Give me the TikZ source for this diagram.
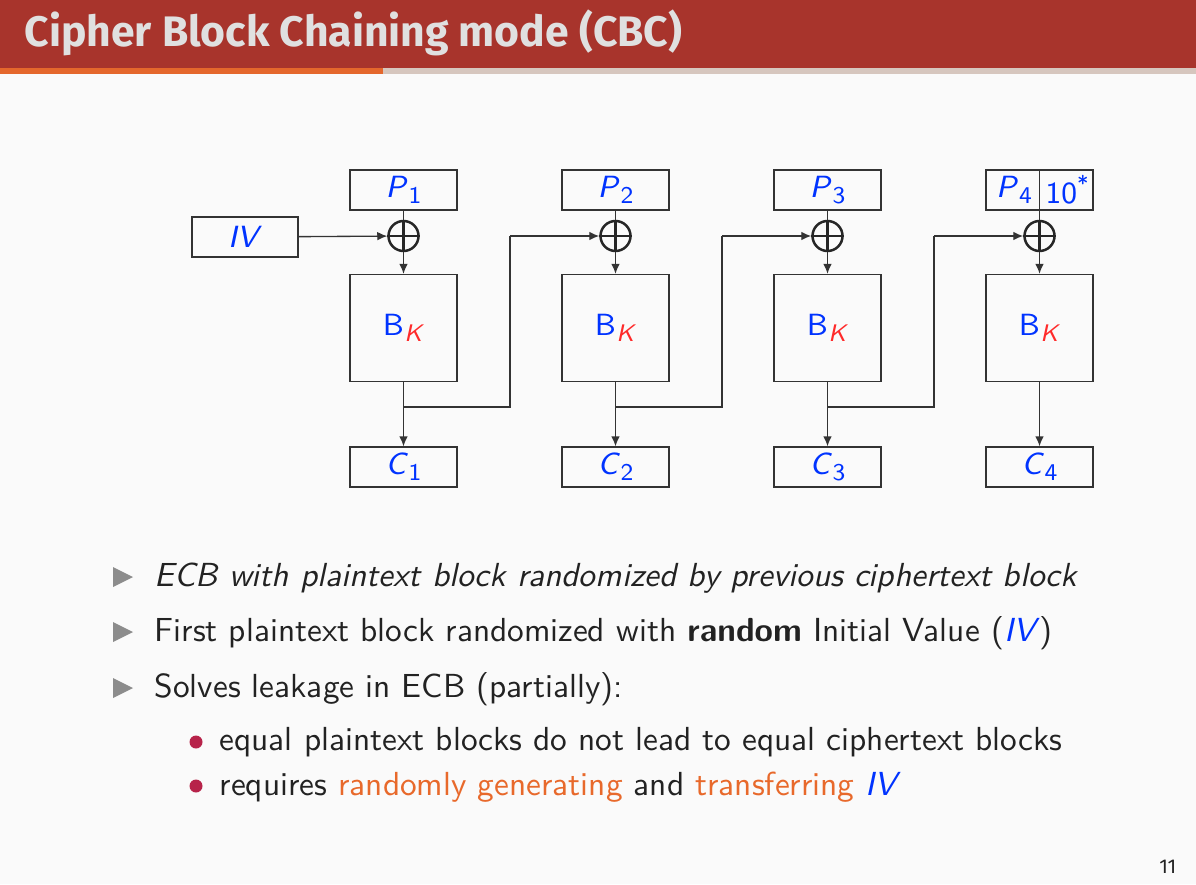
\documentclass[tikz,border=0pt]{standalone}
\usepackage{fontspec}
\setmainfont{Latin Modern Sans}
\newfontfamily\titlefont{Fira Sans}
\usetikzlibrary{arrows.meta,calc}
\definecolor{bg}{HTML}{FAFAFA}
\definecolor{barred}{HTML}{A8342C}
\definecolor{barorange}{HTML}{E4672C}
\definecolor{bargray}{HTML}{D6C6BE}
\definecolor{txtblue}{HTML}{0033FF}
\definecolor{txtred}{HTML}{FF2A2A}
\definecolor{txtorange}{HTML}{E8692B}
\definecolor{bulletred}{HTML}{B7234A}
\definecolor{linegray}{HTML}{333333}
\definecolor{textdark}{HTML}{222222}
\newcommand{\lowsub}[1]{\raisebox{-0.2em}{\fontsize{7.2}{8}\selectfont #1}}
\newcommand{\pv}[2]{\textcolor{txtblue}{\textit{#1}\kern0.02em\lowsub{#2}}}
\newcommand{\bk}{\textcolor{txtblue}{B}\kern0.02em\textcolor{txtred}{\lowsub{\textit{K}}}}
\begin{document}
\begin{tikzpicture}[x=0.3pt,y=-0.3pt,
  blk/.style={draw=linegray,line width=0.4pt,minimum width=32.1pt,minimum height=12pt,inner sep=0pt,font=\fontsize{9.2}{10}\selectfont},
  bigblk/.style={blk,minimum height=32.1pt},
  xorc/.style={draw=black!85,line width=0.75pt,circle,minimum size=9pt,inner sep=0pt},
  arr/.style={draw=linegray,line width=0.4pt,-{Latex[length=3pt,width=2.6pt]}},
  ln/.style={draw=linegray,line width=0.4pt},
  txt/.style={anchor=base west,inner sep=0pt,text=textdark,font=\fontsize{10}{12}\selectfont},
  tri/.style={fill=gray!90},
  dot/.style={fill=bulletred}]
\fill[bg] (0,0) rectangle (1196,884);
\useasboundingbox (0,0) rectangle (1196,884);
% title bar
\fill[barred] (0,0) rectangle (1196,68);
\fill[barorange] (0,68) rectangle (383,74);
\fill[bargray] (383,68) rectangle (1196,74);
\node[anchor=base west,inner sep=0pt,text=white!88!black,font=\titlefont\bfseries\fontsize{12.8}{14}\selectfont] (title) at (24,47) {Cipher Block Chaining mode (CBC)};
% diagram
\node[blk,minimum width=31.8pt] (iv) at (245,237) {\textcolor{txtblue}{\textit{IV}}};
\foreach \i/\cx in {1/403.5,2/615.5,3/827.5,4/1039.5}{
  \node[xorc] (x\i) at (\cx,236) {};
  \draw[line width=0.75pt,black!85] (x\i.north) -- (x\i.south) (x\i.west) -- (x\i.east);
  \node[bigblk] (b\i) at (\cx,328) {\bk};
  \node[blk] (c\i) at (\cx,467) {\pv{C}{\i}};
  \draw[arr] (x\i) -- (b\i);
  \draw[arr] (b\i) -- (c\i);
}
\foreach \i/\cx in {1/403.5,2/615.5,3/827.5}{
  \node[blk] (p\i) at (\cx,190) {\pv{P}{\i}};
  \draw[ln] (p\i) -- (x\i);
}
\node[blk] (p4) at (1039.5,190) {};
\node[inner sep=0pt,font=\fontsize{9.2}{10}\selectfont] (p4t) at (1014,190) {\pv{P}{4}};
\node[inner sep=0pt,font=\fontsize{9.2}{10}\selectfont] (p4p) at (1067,190) {\textcolor{txtblue}{10\raisebox{0.4em}{\fontsize{6.5}{7}\selectfont *}}};
\draw[ln,line width=0.55pt] (p4.north) -- (x4.north);
\draw[arr] (iv) -- (x1);
\foreach \a/\b/\mx in {1/2/510,2/3/722,3/4/934}{
  \coordinate (d\a) at (b\a.south |- 0,407);
  \coordinate (u\a) at (\mx,407);
  \coordinate (t\a) at (\mx,236);
  \draw[ln] (d\a) -- (u\a) -- (t\a);
  \draw[arr] (t\a) -- (x\b);
}
% bullets
\foreach \y in {586,641,697}{\fill[tri] (113,\y-19) -- (133,\y-9) -- (113,\y+1) -- cycle;}
\node[txt] (l1) at (154,586) {\textit{ECB with plaintext block randomized by previous ciphertext block}};
\node[txt] (l2) at (154,641) {First plaintext block randomized with \textbf{random} Initial Value (\textcolor{txtblue}{\textit{IV}\/})};
\node[txt] (l3) at (154,697) {Solves leakage in ECB (partially):};
\fill[dot] (196,742) circle (6.5);
\fill[dot] (196,786) circle (6.5);
\node[txt] (s1) at (219,750) {equal plaintext blocks do not lead to equal ciphertext blocks};
\node[txt] (s2) at (219,795) {requires \textcolor{txtorange}{randomly generating} and \textcolor{txtorange}{transferring} \textcolor{txtblue}{\textit{IV}}};
\node[anchor=base east,inner sep=0pt,text=textdark,font=\titlefont\fontsize{6}{7}\selectfont] (pg) at (1177,873) {11};
\end{tikzpicture}
\end{document}
